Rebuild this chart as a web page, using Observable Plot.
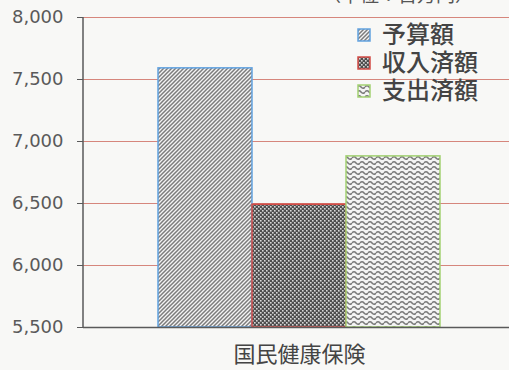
<!DOCTYPE html>
<html>
<head>
<meta charset="utf-8">
<script src="https://cdn.jsdelivr.net/npm/d3@7"></script>
<script src="https://cdn.jsdelivr.net/npm/@observablehq/plot@0.6"></script>
<style>
  html, body { margin: 0; padding: 0; background: #f8f8f6; }
  #wrap { position: relative; width: 509px; height: 370px; overflow: hidden; font-family: "DejaVu Sans", "Noto Sans CJK JP", sans-serif; }
  #unit { position: absolute; top: -20px; left: 322px; font-size: 19px; color: #555; white-space: nowrap; }
  #legend { position: absolute; left: 357px; top: 21px; font-size: 24px; font-weight: 500; color: #444; line-height: 28px; }
  #legend .row { display: flex; align-items: center; height: 28px; }
  #legend svg { margin-right: 11px; }
</style>
</head>
<body>
<div id="wrap"><div id="unit"></div><div id="legend"></div></div>
<script>
const series = ["予算額", "収入済額", "支出済額"];
const values = [7590, 6490, 6880];
const category = ["国民健康保険"];
const yTicks = [5500, 6000, 6500, 7000, 7500, 8000];
const unitLabel = ["（単位：百万円）"];

const strokes = ["#62a2e0", "#d24b46", "#a2d172"];
const patternIds = ["pat-diag", "pat-check", "pat-wave"];
const data = series.map((s, i) => ({series: s, value: values[i]}));

function patternDefs(parent) {
  const defs = d3.select(parent).append("defs");
  const p0 = defs.append("pattern").attr("id", patternIds[0]).attr("patternUnits", "userSpaceOnUse").attr("width", 4).attr("height", 4);
  p0.append("rect").attr("width", 4).attr("height", 4).attr("fill", "#f4f4f4");
  p0.append("path").attr("d", "M-1,1 l2,-2 M0,4 l4,-4 M3,5 l2,-2").attr("stroke", "#7c7c7c").attr("stroke-width", 1.5);
  const p1 = defs.append("pattern").attr("id", patternIds[1]).attr("patternUnits", "userSpaceOnUse").attr("width", 4).attr("height", 4);
  p1.append("rect").attr("width", 4).attr("height", 4).attr("fill", "#4e4e4e");
  p1.append("rect").attr("x", 0).attr("y", 0).attr("width", 1.6).attr("height", 1.6).attr("fill", "#d8d8d8");
  p1.append("rect").attr("x", 2).attr("y", 2).attr("width", 1.6).attr("height", 1.6).attr("fill", "#d8d8d8");
  const p2 = defs.append("pattern").attr("id", patternIds[2]).attr("patternUnits", "userSpaceOnUse").attr("width", 8).attr("height", 5);
  p2.append("rect").attr("width", 8).attr("height", 5).attr("fill", "#f4f4f4");
  p2.append("path").attr("d", "M0,3 Q2,0.6 4,3 T8,3").attr("fill", "none").attr("stroke", "#7a7a7a").attr("stroke-width", 1.6);
}

const chart = Plot.plot({
  width: 509,
  height: 370,
  marginTop: 17,
  marginBottom: 43,
  marginLeft: 83,
  marginRight: 0,
  style: {background: "transparent", fontFamily: "\"DejaVu Sans\", \"Noto Sans CJK JP\", sans-serif", color: "#555"},
  x: {domain: series, range: [157, 441], paddingInner: 0, paddingOuter: 0, axis: null},
  y: {domain: [yTicks[0], yTicks[yTicks.length - 1]], axis: null},
  marks: [
    () => { const g = d3.create("svg:g"); patternDefs(g.node()); return g.node(); },
    Plot.ruleY(yTicks.slice(1), {stroke: "#d6867c", strokeWidth: 1}),
    ...series.map((s, i) => Plot.barY(data.filter(d => d.series === s), {
      x: "series", y1: () => yTicks[0], y2: "value",
      fill: `url(#${patternIds[i]})`, stroke: strokes[i], strokeWidth: 1.5, inset: 0
    })),
    Plot.ruleY([yTicks[0]], {stroke: "#5a5a5a", strokeWidth: 1.5}),
    (index, scales, values, dims) => {
      const l = d3.create("svg:line")
        .attr("x1", dims.marginLeft).attr("x2", dims.marginLeft)
        .attr("y1", dims.marginTop).attr("y2", dims.height - dims.marginBottom)
        .attr("stroke", "#5a5a5a").attr("stroke-width", 1.5);
      return l.node();
    },
    Plot.axisY({ticks: yTicks, tickSize: 6, tickPadding: 14, tickFormat: d3.format(","), fontSize: 18, stroke: "#5a5a5a", fill: "#5a5a5a", label: null}),
    Plot.axisX({ticks: [series[1]], tickSize: 0, tickPadding: 19, tickFormat: () => category[0], fontSize: 22, fill: "#444", label: null})
  ]
});
document.getElementById("wrap").prepend(chart);
document.getElementById("unit").textContent = unitLabel[0];

const legend = document.getElementById("legend");
series.forEach((s, i) => {
  const row = document.createElement("div");
  row.className = "row";
  const sw = d3.create("svg").attr("width", 14).attr("height", 14);
  sw.append("rect").attr("x", 1).attr("y", 1).attr("width", 12).attr("height", 12)
    .attr("fill", `url(#${patternIds[i]})`).attr("stroke", strokes[i]).attr("stroke-width", 1.5);
  row.appendChild(sw.node());
  const t = document.createElement("span");
  t.textContent = s;
  row.appendChild(t);
  legend.appendChild(row);
});
</script>
</body>
</html>
